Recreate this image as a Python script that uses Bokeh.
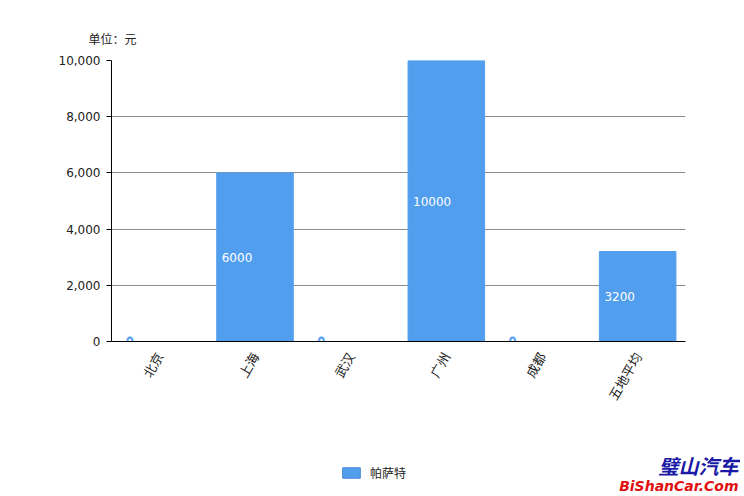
import math
from bokeh.plotting import figure
from bokeh.layouts import column, row
from bokeh.models import (ColumnDataSource, Range1d, FactorRange, NumeralTickFormatter,
                          Label, Legend, LegendItem, FixedTicker, Title, CDSView, BooleanFilter)
from bokeh.core.properties import value
from bokeh.embed import file_html
from bokeh.resources import INLINE

categories = ["北京", "上海", "武汉", "广州", "成都", "五地平均"]
values = [0, 6000, 0, 10000, 0, 3200]
series_name = "帕萨特"
unit_text = "单位：元"
y_ticks = [0, 2000, 4000, 6000, 8000, 10000]
watermark_cn = "璧山汽车"
watermark_en = "BiShanCar.Com"

BAR = "#529EEE"
CJK = "Noto Sans CJK SC"
TXT = "#222222"

src = ColumnDataSource(dict(
    cat=categories,
    val=values,
    half=[v / 2 for v in values],
    lbl=[str(v) for v in values],
    lx=[(i + 0.1) for i in range(len(categories))],
))

p = figure(x_range=FactorRange(*categories, range_padding=0), y_range=Range1d(0, 10000),
           frame_width=574, frame_height=281,
           min_border_left=111, min_border_right=55, min_border_top=60, min_border_bottom=59,
           output_backend="svg", toolbar_location=None, outline_line_color=None,
           background_fill_color="white", border_fill_color="white")

r = p.vbar(x="cat", top="val", width=0.8, source=src, fill_color=BAR, line_color=BAR)

zero_view = CDSView(filter=BooleanFilter([v == 0 for v in values]))
bar_view = CDSView(filter=BooleanFilter([v != 0 for v in values]))

p.text(x="lx", y="half", text="lbl", source=src, view=bar_view, x_offset=5,
       text_color="white",
       text_font=value("DejaVu Sans"), text_font_size="12px",
       text_align="left", text_baseline="middle")
p.text(x="lx", y="half", text="lbl", source=src, view=zero_view, x_offset=5,
       text_color="white", text_outline_color=BAR,
       text_font=value("DejaVu Sans"), text_font_size="12px",
       text_align="left", text_baseline="middle")

p.xgrid.grid_line_color = None
p.ygrid.grid_line_color = "#8c8c8c"
p.ygrid.grid_line_width = 1
p.yaxis.ticker = FixedTicker(ticks=y_ticks)
p.yaxis.formatter = NumeralTickFormatter(format="0,0")
p.yaxis.axis_line_color = "black"
p.yaxis.major_tick_line_color = "black"
p.yaxis.major_tick_in = 0
p.yaxis.major_tick_out = 5
p.yaxis.minor_tick_line_color = None
p.yaxis.major_label_standoff = 6
p.yaxis.major_label_text_font = "DejaVu Sans"
p.yaxis.major_label_text_font_size = "12px"
p.yaxis.major_label_text_color = TXT

p.xaxis.axis_line_color = "black"
p.xaxis.major_tick_line_color = None
p.xaxis.minor_tick_line_color = None
p.xaxis.major_label_orientation = math.pi / 3
p.xaxis.major_label_standoff = 6
p.xaxis.major_label_text_font = CJK
p.xaxis.major_label_text_font_size = "13px"
p.xaxis.major_label_text_color = TXT

p.add_layout(Title(text=unit_text, align="left", offset=-23, standoff=27,
                   text_font=CJK, text_font_size="12px", text_font_style="normal",
                   text_color=TXT), "above")

# bottom strip: legend and watermark
FRAME_LEFT = 111
q = figure(x_range=Range1d(-100, -99), y_range=Range1d(-100, -99), width=740, height=86,
           min_border=0, min_border_left=FRAME_LEFT, min_border_right=0,
           output_backend="svg", toolbar_location=None,
           outline_line_color=None, x_axis_type=None, y_axis_type=None,
           background_fill_color="white", border_fill_color="white")
q.xgrid.visible = False
q.ygrid.visible = False
sw = q.vbar(x="lx", top="val", width=0.8, source=src, fill_color=BAR, line_color="#3f86d6")

legend = Legend(items=[LegendItem(label=series_name, renderers=[sw])],
                location=(340 - FRAME_LEFT, 16), orientation="horizontal",
                glyph_width=22, glyph_height=13, label_height=13, label_standoff=8,
                padding=0, spacing=0, margin=0, border_line_color=None,
                background_fill_alpha=0, label_text_font=CJK, label_text_font_size="12px",
                label_text_color=TXT)
q.add_layout(legend, "center")

q.add_layout(Label(x=738 - FRAME_LEFT, y=32, x_units="screen", y_units="screen", text=watermark_cn,
                   text_font=CJK, text_font_size="20px", text_font_style="bold italic",
                   text_color="#1a1aa6", text_align="right", text_baseline="middle"))
q.add_layout(Label(x=738 - FRAME_LEFT, y=12, x_units="screen", y_units="screen", text=watermark_en,
                   text_font="DejaVu Sans", text_font_size="14px", text_font_style="bold italic",
                   text_color="#e01010", text_align="right", text_baseline="middle"))

layout = column(p, row(q), spacing=0)
open("out.html", "w").write(file_html(layout, INLINE))
